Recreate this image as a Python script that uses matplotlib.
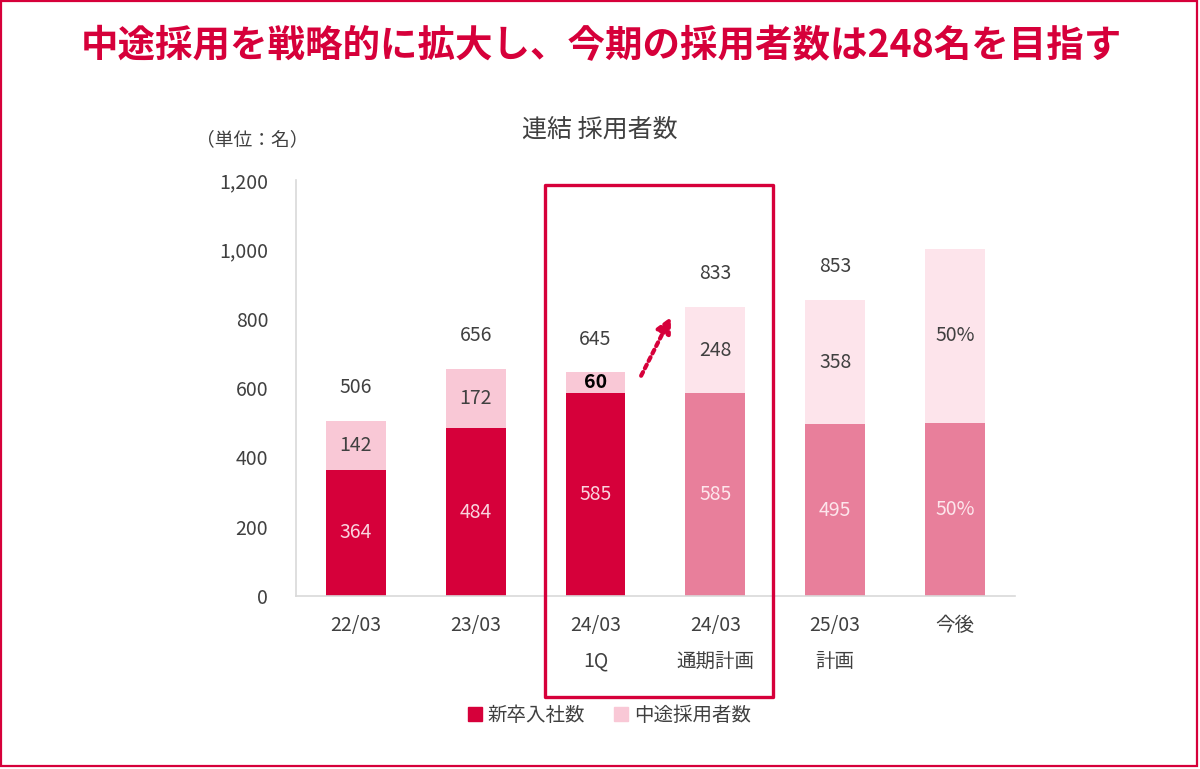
import numpy as np
import matplotlib
matplotlib.use("Agg")
import matplotlib.pyplot as plt
from matplotlib.patches import Patch, Rectangle

plt.rcParams['font.family'] = ['Noto Sans CJK JP', 'DejaVu Sans']

# data
categories = ['22/03', '23/03', '24/03\n1Q', '24/03\n通期計画', '25/03\n計画', '今後']
new_grads = [364, 484, 585, 585, 495, 500]
mid_career = [142, 172, 60, 248, 358, 500]
totals = [506, 656, 645, 833, 853, None]
new_labels = ['364', '484', '585', '585', '495', '50%']
mid_labels = ['142', '172', '60', '248', '358', '50%']
is_plan = [False, False, False, True, True, True]

RED = '#D6003A'
PINK = '#F9C8D6'
PLAN_RED = '#E87F9B'
PLAN_PINK = '#FDE4EB'
TXT = '#404040'

fig = plt.figure(figsize=(12, 7.69), dpi=100)
ax = fig.add_axes([0.2467, 0.225, 0.599, 0.541])

x = np.arange(len(categories))
c_low = [PLAN_RED if p else RED for p in is_plan]
c_up = [PLAN_PINK if p else PINK for p in is_plan]
ax.bar(x, new_grads, width=0.5, color=c_low)
ax.bar(x, mid_career, width=0.5, bottom=new_grads, color=c_up)

# labels in segments
for i in range(len(x)):
    lc = '#FDE6EC' if is_plan[i] else '#FAD3DE'
    ax.text(x[i], new_grads[i] / 2, new_labels[i], ha='center', va='center',
            fontsize=14, color=lc)
    bold = mid_labels[i] == '60'
    ax.text(x[i], new_grads[i] + mid_career[i] / 2, mid_labels[i], ha='center',
            va='center', fontsize=14, color='black' if bold else TXT,
            fontweight='bold' if bold else 'normal')
    if totals[i] is not None:
        ax.annotate(str(totals[i]), (x[i], totals[i]), xytext=(0, 24),
                    textcoords='offset points', ha='center', va='center',
                    fontsize=14, color=TXT)

ax.set_xlim(-0.5, 5.5)
ax.set_ylim(0, 1200)
ax.set_yticks(range(0, 1201, 200))
ax.set_yticklabels([f'{v:,}' for v in range(0, 1201, 200)])
ax.set_xticks(x)
ax.set_xticklabels(categories, linespacing=1.9)
ax.tick_params(axis='y', length=0, pad=20, labelsize=14, labelcolor=TXT)
ax.tick_params(axis='x', length=0, pad=14, labelsize=14, labelcolor=TXT)
for s in ['top', 'right']:
    ax.spines[s].set_visible(False)
for s in ['left', 'bottom']:
    ax.spines[s].set_color('#D9D9D9')
    ax.spines[s].set_linewidth(1.2)

# dotted arrow 1Q -> plan
ax.annotate('', xy=(2.64, 812), xytext=(2.37, 628),
            arrowprops=dict(arrowstyle='-|>,head_length=0.9,head_width=0.45',
                            linestyle=(0, (1, 1)), lw=3, color=RED))

# highlight box
fig.patches.append(Rectangle((0.4542, 0.0936), 0.19, 0.6658, transform=fig.transFigure,
                             fill=False, edgecolor=RED, lw=2.4, joinstyle='round'))
# outer frame
fig.patches.append(Rectangle((0.001, 0.004), 0.9965, 0.995, transform=fig.transFigure,
                             fill=False, edgecolor=RED, lw=1.6))

fig.text(0.501, 0.941, '中途採用を戦略的に拡大し、今期の採用者数は248名を目指す',
         ha='center', va='center', fontsize=27, fontweight='bold', color=RED)
fig.text(0.5, 0.831, '連結 採用者数', ha='center', va='center', fontsize=18, color=TXT)
fig.text(0.21, 0.818, '（単位：名）', ha='center', va='center', fontsize=13.5, color=TXT)

handles = [Patch(color=RED), Patch(color=PINK)]
fig.legend(handles, ['新卒入社数', '中途採用者数'], loc='center', ncol=2,
           bbox_to_anchor=(0.508, 0.070), frameon=False, fontsize=14,
           handlelength=0.7, handleheight=0.7, handletextpad=0.3, columnspacing=1.5,
           labelcolor=TXT)

fig.savefig('out.png', dpi=100)
